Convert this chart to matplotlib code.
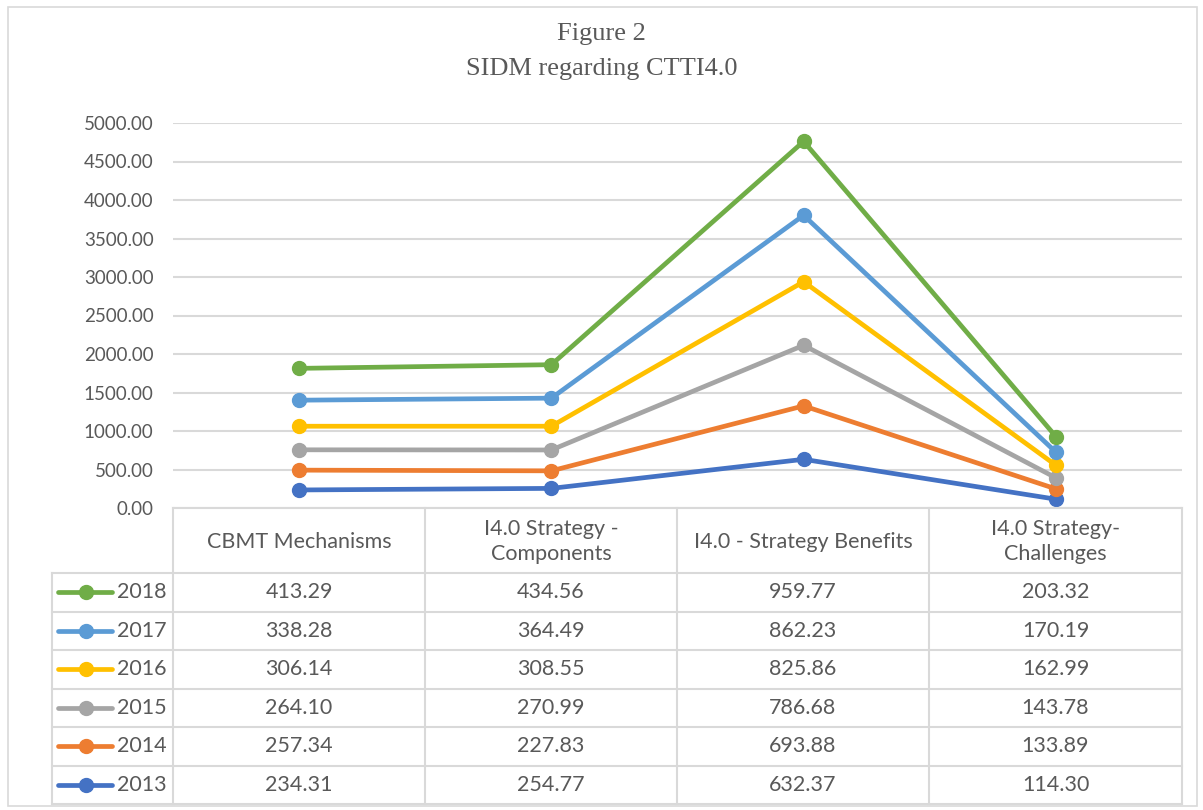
import matplotlib
matplotlib.use("Agg")
import matplotlib.pyplot as plt
from matplotlib.patches import Rectangle
import numpy as np

categories = ["CBMT Mechanisms", "I4.0 Strategy -\nComponents", "I4.0 - Strategy Benefits", "I4.0 Strategy-\nChallenges"]
years = ["2013", "2014", "2015", "2016", "2017", "2018"]
v2013 = [234.31, 254.77, 632.37, 114.30]
v2014 = [257.34, 227.83, 693.88, 133.89]
v2015 = [264.10, 270.99, 786.68, 143.78]
v2016 = [306.14, 308.55, 825.86, 162.99]
v2017 = [338.28, 364.49, 862.23, 170.19]
v2018 = [413.29, 434.56, 959.77, 203.32]
series = [v2013, v2014, v2015, v2016, v2017, v2018]
colors = ["#4472C4", "#ED7D31", "#A5A5A5", "#FFC000", "#5B9BD5", "#70AD47"]
yticks = [0, 500, 1000, 1500, 2000, 2500, 3000, 3500, 4000, 4500, 5000]

W, H = 1203, 810
fig = plt.figure(figsize=(W/100, H/100), dpi=100)
plt.rcParams['font.family'] = ['Lato', 'DejaVu Sans']
txtc = "#595959"
gridc = "#D9D9D9"

# outer frame
fig.patches.append(Rectangle((8/W, 1-806/H), (1197-8)/W, (806-7)/H, transform=fig.transFigure,
                             fill=False, edgecolor="#D9D9D9", linewidth=1.2))

fig.text(0.5, 1-34/H, "Figure 2", ha="center", va="center", fontsize=19,
         family=["Liberation Serif"], color=txtc)
fig.text(0.5, 1-69/H, "SIDM regarding CTTI4.0", ha="center", va="center", fontsize=19,
         family=["Liberation Serif"], color=txtc)

L, R, T, B = 173, 1182, 123, 508
ax = fig.add_axes([L/W, 1-B/H, (R-L)/W, (B-T)/H])
ax.set_xlim(-0.5, len(categories)-0.5)
ax.set_ylim(0, 5000)
for s in ax.spines.values():
    s.set_visible(False)
ax.set_yticks(yticks)
ax.set_yticklabels([f"{t:.2f}" for t in yticks], fontsize=13.5, color=txtc)
ax.tick_params(axis="y", length=0, pad=14)
ax.set_xticks([])
ax.grid(axis="y", color=gridc, linewidth=1.5)
ax.set_axisbelow(True)
x = np.arange(len(categories))
cum = np.zeros(len(categories))
for vals, c in zip(series, colors):
    cum = cum + np.array(vals)
    ax.plot(x, cum, color=c, linewidth=3.4, marker="o", markersize=10, clip_on=False, zorder=3)

# table
tax = fig.add_axes([0, 0, 1, 1])
tax.set_xlim(0, W)
tax.set_ylim(H, 0)
tax.axis("off")
colx = [173, 425, 677, 929, 1182]
rowy = [573, 611.5, 650, 688.5, 727, 765.5, 804]
lw = 1.5
tax.plot([colx[0], colx[-1]], [B, B], color=gridc, lw=lw)
for cx in colx:
    tax.plot([cx, cx], [B, rowy[-1]], color=gridc, lw=lw)
tax.plot([52, 52], [rowy[0], rowy[-1]], color=gridc, lw=lw)
for ry in rowy:
    tax.plot([52, colx[-1]], [ry, ry], color=gridc, lw=lw)
for i, cat in enumerate(categories):
    cx = (colx[i] + colx[i+1]) / 2
    tax.text(cx, (B + rowy[0]) / 2 + 1, cat, ha="center", va="center", fontsize=15.5,
             color=txtc, linespacing=1.3)
order = list(range(len(years)))[::-1]
for r, si in enumerate(order):
    cy = (rowy[r] + rowy[r+1]) / 2
    c = colors[si]
    tax.plot([58, 112], [cy, cy], color=c, lw=3.4, solid_capstyle="round")
    tax.plot([86], [cy], marker="o", markersize=10, color=c)
    tax.text(117, cy, years[si], ha="left", va="center", fontsize=15.5, color=txtc)
    for i, v in enumerate(series[si]):
        cx = (colx[i] + colx[i+1]) / 2
        tax.text(cx, cy, f"{v:.2f}", ha="center", va="center", fontsize=15.5, color=txtc)

fig.savefig("out.png", dpi=100)
